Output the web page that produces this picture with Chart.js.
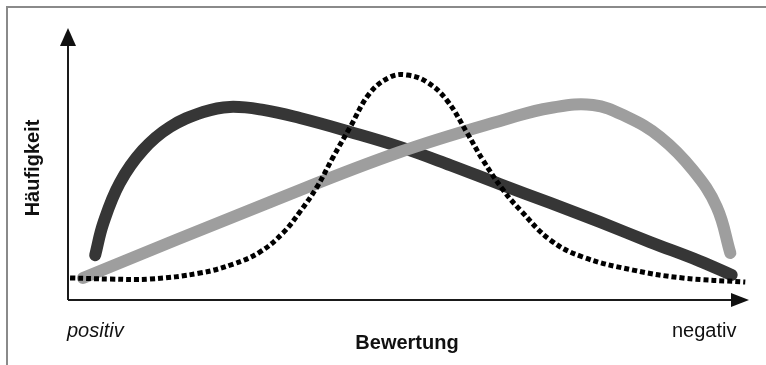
<!DOCTYPE html>
<html>
<head>
<meta charset="utf-8">
<script src="https://cdn.jsdelivr.net/npm/chart.js@4/dist/chart.umd.min.js"></script>
<style>
  html, body { margin: 0; padding: 0; background: #fff; }
  #wrap { position: relative; width: 766px; height: 365px; overflow: hidden; font-family: "Liberation Sans", Arial, sans-serif; }
  #frame { position: absolute; left: 6px; top: 6px; width: 780px; height: 380px; border-top: 2px solid #8a8a8a; border-left: 2px solid #8a8a8a; box-sizing: border-box; }
  canvas { position: absolute; left: 0; top: 0; }
  .lbl { position: absolute; font-size: 20px; line-height: 20px; color: #111; white-space: nowrap; }
  #ytitle { left: 32px; top: 168px; font-weight: bold; transform: translate(-50%, -50%) rotate(-90deg); }
  #xtitle { left: 407px; top: 332px; font-weight: bold; transform: translateX(-50%); }
  #pos { left: 67px; top: 320px; font-style: italic; }
  #neg { left: 672px; top: 320px; }
</style>
</head>
<body>
<div id="wrap">
  <canvas id="c" width="766" height="365"></canvas>
  <div id="frame"></div>
  <div class="lbl" id="ytitle">Häufigkeit</div>
  <div class="lbl" id="xtitle">Bewertung</div>
  <div class="lbl" id="pos">positiv</div>
  <div class="lbl" id="neg">negativ</div>
</div>
<script>
// Series (x: 0 = positiv .. 100 = negativ, y: relative Häufigkeit 0..100)
const darkX = [4.0, 5.2, 7.6, 11.0, 15.0, 19.9, 23.8, 28.7, 34.1, 41.5, 48.8, 56.2, 63.5, 70.9, 78.2, 85.6, 92.9, 97.6];
const darkY = [16.5, 28.3, 43.0, 55.1, 63.6, 69.1, 71.0, 69.9, 66.9, 61.8, 56.3, 49.6, 42.6, 35.7, 28.7, 21.3, 14.3, 9.2];

const grayX = [2.2, 29.7, 48.8, 65.0, 70.9, 77.2, 82.2, 87.1, 91.9, 95.4, 97.4];
const grayY = [8.1, 36.0, 54.4, 66.9, 70.6, 71.7, 67.3, 59.9, 47.8, 34.2, 17.3];

const dotX = [0.3, 6.2, 12.1, 19.4, 24.3, 28.2, 31.6, 34.1, 36.6, 39.0, 41.5, 44.4, 47.4, 49.9, 52.8, 55.7, 58.7, 61.0, 64.0, 66.5, 70.9, 75.7, 83.1, 90.4, 99.6];
const dotY = [8.1, 7.7, 7.7, 9.9, 13.2, 17.6, 24.6, 32.4, 41.5, 52.6, 63.6, 76.1, 82.0, 82.7, 80.1, 73.5, 61.4, 51.5, 40.4, 33.1, 22.1, 15.8, 11.0, 8.1, 6.6];

const toPts = (xs, ys) => xs.map((x, i) => ({ x: x, y: ys[i] }));

const axesPlugin = {
  id: 'arrowAxes',
  afterDatasetsDraw(chart) {
    const { ctx, chartArea: a } = chart;
    ctx.save();
    ctx.strokeStyle = '#1a1a1a';
    ctx.fillStyle = '#111';
    ctx.lineWidth = 2;
    ctx.beginPath();
    ctx.moveTo(a.left, a.bottom);
    ctx.lineTo(a.left, a.top + 14);
    ctx.moveTo(a.left, a.bottom);
    ctx.lineTo(a.right - 14, a.bottom);
    ctx.stroke();
    // arrow heads
    ctx.beginPath();
    ctx.moveTo(a.left, a.top);
    ctx.lineTo(a.left - 8, a.top + 18);
    ctx.lineTo(a.left + 8, a.top + 18);
    ctx.closePath();
    ctx.fill();
    ctx.beginPath();
    ctx.moveTo(a.right + 1, a.bottom);
    ctx.lineTo(a.right - 17, a.bottom - 7);
    ctx.lineTo(a.right - 17, a.bottom + 7);
    ctx.closePath();
    ctx.fill();
    ctx.restore();
  }
};

new Chart(document.getElementById('c'), {
  type: 'line',
  data: {
    datasets: [
      {
        label: 'dotted',
        data: toPts(dotX, dotY),
        borderColor: '#000',
        borderWidth: 5,
        borderDash: [5, 3],
        borderCapStyle: 'butt',
        tension: 0.4,
        pointRadius: 0,
        fill: false,
        clip: false
      },
      {
        label: 'gray',
        data: toPts(grayX, grayY),
        borderColor: '#9e9e9e',
        borderWidth: 12,
        borderCapStyle: 'round',
        borderJoinStyle: 'round',
        tension: 0.4,
        pointRadius: 0,
        fill: false,
        clip: false
      },
      {
        label: 'dark',
        data: toPts(darkX, darkY),
        borderColor: '#363636',
        borderWidth: 12,
        borderCapStyle: 'round',
        borderJoinStyle: 'round',
        tension: 0.4,
        pointRadius: 0,
        fill: false,
        clip: false
      }
    ]
  },
  options: {
    responsive: false,
    animation: false,
    events: [],
    layout: { padding: { left: 68, right: 18, top: 28, bottom: 65 } },
    scales: {
      x: { type: 'linear', min: 0, max: 100, display: false },
      y: { type: 'linear', min: 0, max: 100, display: false }
    },
    plugins: { legend: { display: false }, tooltip: { enabled: false } }
  },
  plugins: [axesPlugin]
});
</script>
</body>
</html>
